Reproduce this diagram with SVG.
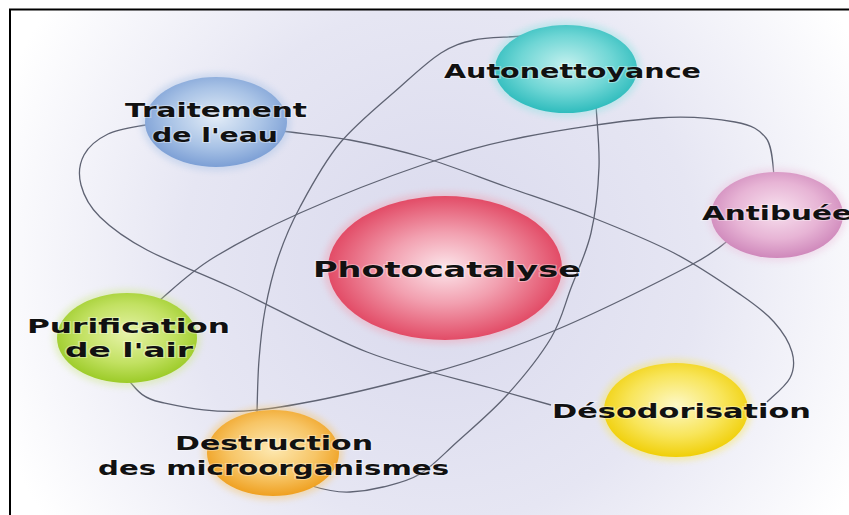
<svg xmlns="http://www.w3.org/2000/svg" width="849" height="515" viewBox="0 0 849 515">
  <defs>
    <radialGradient id="bg" cx="440" cy="265" r="470" gradientUnits="userSpaceOnUse">
      <stop offset="0" stop-color="#d9d9ed"/>
      <stop offset="0.55" stop-color="#e6e6f3"/>
      <stop offset="1" stop-color="#ffffff"/>
    </radialGradient>
    <radialGradient id="gBlue" cx="0.5" cy="0.45" r="0.55">
      <stop offset="0" stop-color="#e2ecf7"/>
      <stop offset="0.6" stop-color="#a9c3e6"/>
      <stop offset="1" stop-color="#7c9fd5"/>
    </radialGradient>
    <radialGradient id="gTeal" cx="0.5" cy="0.45" r="0.55">
      <stop offset="0" stop-color="#c2f0ee"/>
      <stop offset="0.6" stop-color="#6fd6d5"/>
      <stop offset="1" stop-color="#2fbcbd"/>
    </radialGradient>
    <radialGradient id="gPink" cx="0.5" cy="0.45" r="0.55">
      <stop offset="0" stop-color="#f8e2ef"/>
      <stop offset="0.6" stop-color="#e7b4d5"/>
      <stop offset="1" stop-color="#cf88bb"/>
    </radialGradient>
    <radialGradient id="gRed" cx="0.5" cy="0.5" r="0.55">
      <stop offset="0" stop-color="#fce6eb"/>
      <stop offset="0.45" stop-color="#f2a0b0"/>
      <stop offset="1" stop-color="#df3b58"/>
    </radialGradient>
    <radialGradient id="gGreen" cx="0.5" cy="0.45" r="0.55">
      <stop offset="0" stop-color="#e6f3a8"/>
      <stop offset="0.6" stop-color="#c2e162"/>
      <stop offset="1" stop-color="#9ccb28"/>
    </radialGradient>
    <radialGradient id="gOrange" cx="0.5" cy="0.45" r="0.55">
      <stop offset="0" stop-color="#fde9b2"/>
      <stop offset="0.6" stop-color="#f7c566"/>
      <stop offset="1" stop-color="#efa020"/>
    </radialGradient>
    <radialGradient id="gYellow" cx="0.5" cy="0.45" r="0.55">
      <stop offset="0" stop-color="#fdf8c6"/>
      <stop offset="0.6" stop-color="#f8e55a"/>
      <stop offset="1" stop-color="#f0cf08"/>
    </radialGradient>
    <filter id="glow" x="-20%" y="-20%" width="140%" height="140%">
      <feGaussianBlur stdDeviation="3"/>
    </filter>
  </defs>
  <style>
    .orbit { fill: none; stroke: #5f6373; stroke-width: 1.3; }
    .halo { opacity: 0.45; filter: url(#glow); }
    .lbl { font-family: "DejaVu Sans", "Liberation Sans", sans-serif; font-weight: bold; font-size: 19px; fill: #111; stroke: #ffffff; stroke-opacity: 0.35; stroke-width: 2; paint-order: stroke; }
    .big { font-size: 21px; }
  </style>

  <rect x="0" y="0" width="849" height="515" fill="#ffffff"/>
  <rect x="10" y="10" width="839" height="505" fill="url(#bg)"/>
  <path d="M10,515 V9.5 H849" fill="none" stroke="#000" stroke-width="2"/>

  <g id="connectors">
    <path class="orbit" d="M150,124 C138.8,126.5 118.2,129 108,134 C97.8,139 88.5,146.5 84,155 C79.5,163.5 78.3,174.7 81,185 C83.7,195.3 89,206.2 100,217 C111,227.8 124.8,238.2 147,250 C169.2,261.8 196.3,271 233,288 C269.7,305 324,335.3 367,352 C410,368.7 460.3,379.2 491,388 C521.7,396.8 541,402.2 551,405"/>
    <path class="orbit" d="M282,131 C297.5,133.3 327,135.7 350,140 C373,144.3 398.8,150.2 425,158 C451.2,165.8 479.3,177.2 507,187 C534.7,196.8 563.2,206 591,217 C618.8,228 649,240 674,253 C699,266 724.3,283.5 741,295 C757.7,306.5 765.5,312.5 774,322 C782.5,331.5 789.3,342.7 792,352 C794.7,361.3 794.2,369.7 790,378 C785.8,386.3 770.8,398 767,402"/>
    <path class="orbit" d="M160,300 C171.3,290.5 190.2,272 213,258 C235.8,244 264.7,228.7 300,213 C335.3,197.3 387.7,176.7 425,164 C462.3,151.3 485.3,144.7 524,137 C562.7,129.3 621.8,120.5 657,118 C692.2,115.5 716.8,118.7 735,122 C753.2,125.3 759.5,130 766,138 C772.5,146 772.7,164.7 774,176"/>
    <path class="orbit" d="M128,380 C135,386.2 138.8,397.5 160,402 C181.2,406.5 213,414.5 257,410 C301,405.5 375,388 424,375 C473,362 506.5,350.3 551,332 C595.5,313.7 660.3,281.2 691,265 C721.7,248.8 727.7,240 735,235"/>
    <path class="orbit" d="M522,36 C507.3,37.5 486.2,37.3 474,40 C461.8,42.7 453.3,45.2 441,53 C428.7,60.8 416.8,72 400,87 C383.2,102 356.7,123 340,143 C323.3,163 310.3,187.8 300,207 C289.7,226.2 283.8,240.8 278,258 C272.2,275.2 268.2,293 265,310 C261.8,327 260.3,343.7 259,360 C257.7,376.3 257.3,400 257,414"/>
    <path class="orbit" d="M596,104 C596.5,117.8 599.8,146.2 599,167 C598.2,187.8 595.7,212.8 591,233 C586.3,253.2 577.7,270.5 571,288 C564.3,305.5 561.7,320.2 551,338 C540.3,355.8 522.7,377.7 507,395 C491.3,412.3 471.5,428.8 457,442 C442.5,455.2 432.3,466.5 420,474 C407.7,481.5 394.7,484 383,487 C371.3,490 360,491.5 350,492 C340,492.5 325,490 312,486"/>
  </g>

  <g id="traitement">
    <ellipse class="halo" cx="216" cy="122" rx="75" ry="49" fill="#a9c3e6"/>
    <ellipse cx="216" cy="122" rx="71" ry="45" fill="url(#gBlue)"/>
    <text class="lbl" x="125" y="117" textLength="182" lengthAdjust="spacingAndGlyphs">Traitement</text>
    <text class="lbl" x="152" y="142" textLength="126" lengthAdjust="spacingAndGlyphs">de l'eau</text>
  </g>

  <g id="autonettoyance">
    <ellipse class="halo" cx="566" cy="69" rx="75" ry="48" fill="#8fe3e2"/>
    <ellipse cx="566" cy="69" rx="71" ry="44" fill="url(#gTeal)"/>
    <text class="lbl" x="444" y="78" textLength="257" lengthAdjust="spacingAndGlyphs">Autonettoyance</text>
  </g>

  <g id="antibuee">
    <ellipse class="halo" cx="777" cy="215" rx="70" ry="47" fill="#ecc3dd"/>
    <ellipse cx="777" cy="215" rx="66" ry="43" fill="url(#gPink)"/>
    <text class="lbl" x="702" y="220" textLength="150" lengthAdjust="spacingAndGlyphs">Antibuée</text>
  </g>

  <g id="photocatalyse">
    <ellipse class="halo" cx="445" cy="268" rx="122" ry="76" fill="#f2a0b0"/>
    <ellipse cx="445" cy="268" rx="117" ry="72" fill="url(#gRed)"/>
    <text class="lbl big" x="313" y="277" textLength="268" lengthAdjust="spacingAndGlyphs">Photocatalyse</text>
  </g>

  <g id="purification">
    <ellipse class="halo" cx="127" cy="338" rx="74" ry="49" fill="#cfe88a"/>
    <ellipse cx="127" cy="338" rx="70" ry="45" fill="url(#gGreen)"/>
    <text class="lbl" x="27" y="333" textLength="203" lengthAdjust="spacingAndGlyphs">Purification</text>
    <text class="lbl" x="65" y="357" textLength="128" lengthAdjust="spacingAndGlyphs">de l'air</text>
  </g>

  <g id="destruction">
    <ellipse class="halo" cx="273" cy="453" rx="70" ry="47" fill="#f7c566"/>
    <ellipse cx="273" cy="453" rx="66" ry="43" fill="url(#gOrange)"/>
    <text class="lbl" x="175" y="450" textLength="198" lengthAdjust="spacingAndGlyphs">Destruction</text>
    <text class="lbl" x="98" y="475" textLength="351" lengthAdjust="spacingAndGlyphs">des microorganismes</text>
  </g>

  <g id="desodorisation">
    <ellipse class="halo" cx="676" cy="410" rx="76" ry="51" fill="#f8e55a"/>
    <ellipse cx="676" cy="410" rx="72" ry="47" fill="url(#gYellow)"/>
    <text class="lbl" x="552" y="418" textLength="259" lengthAdjust="spacingAndGlyphs">Désodorisation</text>
  </g>
</svg>
